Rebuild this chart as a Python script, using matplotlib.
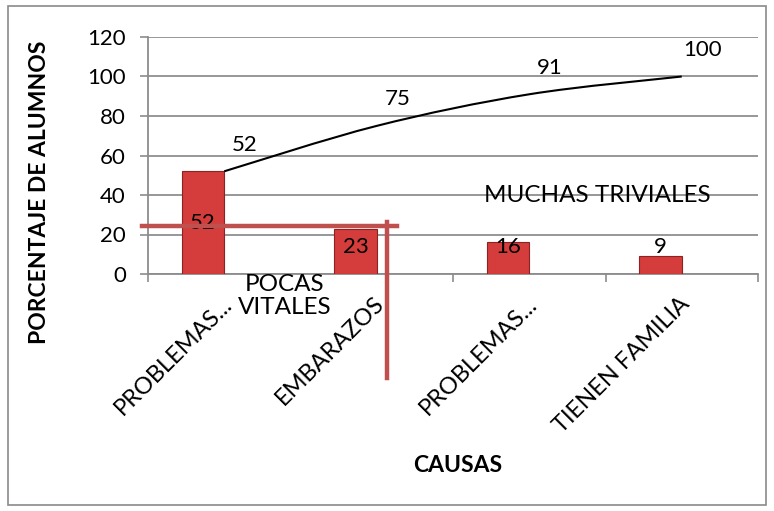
import numpy as np
import matplotlib.pyplot as plt
from matplotlib.path import Path
from matplotlib.patches import PathPatch, Rectangle
from matplotlib.lines import Line2D

plt.rcParams['font.family'] = ['Lato', 'DejaVu Sans']

causas = ['PROBLEMAS...', 'EMBARAZOS', 'PROBLEMAS...', 'TIENEN FAMILIA']
porcentaje = [52, 23, 16, 9]
acumulado = [52, 75, 91, 100]
yticks = [0, 20, 40, 60, 80, 100, 120]

W, H = 774, 511
fig = plt.figure(figsize=(W / 100, H / 100), dpi=100)
ax = fig.add_axes([148 / W, 1 - 274 / H, (758 - 148) / W, (274 - 37) / H])

x = np.arange(len(causas))
bw = 0.28
ax.bar(x - bw / 2, porcentaje, width=bw, color='#d43d3b', edgecolor='#8e2222',
       linewidth=0.8, zorder=3)

# bar value labels
for xi, v in zip(x, porcentaje):
    ax.text(xi - bw / 2, max(v / 2, 13.5), str(v), ha='center', va='center',
            fontsize=16, zorder=5)

# smoothed cumulative line (Catmull-Rom -> bezier)
pts = np.column_stack([x, acumulado]).astype(float)
verts = [pts[0]]
codes = [Path.MOVETO]
for i in range(len(pts) - 1):
    p0 = pts[max(i - 1, 0)]
    p1 = pts[i]
    p2 = pts[i + 1]
    p3 = pts[min(i + 2, len(pts) - 1)]
    verts += [p1 + (p2 - p0) / 6, p2 - (p3 - p1) / 6, p2]
    codes += [Path.CURVE4] * 3
ax.add_patch(PathPatch(Path(verts, codes), fill=False, edgecolor='black',
                       linewidth=1.5, zorder=4))
for xi, v in zip(x, acumulado):
    ax.annotate(str(v), (xi, v), xytext=(15, 19), textcoords='offset points',
                ha='center', va='center', fontsize=16)

ax.set_xlim(-0.5, len(causas) - 0.5)
ax.set_ylim(0, 120)
ax.set_yticks(yticks)
ax.set_xticks(np.arange(len(causas) + 1) - 0.5)
ax.set_xticklabels([])
# category labels, rotated
for xi, lab in zip(x, causas):
    ax.annotate(lab, (xi, 0), xycoords=('data', 'axes fraction'),
                xytext=(3, -19), textcoords='offset points', rotation=45,
                ha='right', va='center', rotation_mode='anchor', fontsize=17,
                annotation_clip=False)
ax.tick_params(axis='x', which='major', length=6, color='#8c8c8c', width=1.2)
ax.tick_params(axis='y', length=6, color='#8c8c8c', width=1.2, pad=10,
               labelsize=16)
ax.grid(axis='y', color='#8f8f8f', linewidth=1.3, zorder=0)
ax.set_axisbelow(True)
for s in ['top', 'right']:
    ax.spines[s].set_visible(False)
for s in ['left', 'bottom']:
    ax.spines[s].set_color('#8c8c8c')
    ax.spines[s].set_linewidth(1.3)

# annotation shapes
red = '#c0504d'
fig.add_artist(Line2D([142 / W, 397 / W], [1 - 226 / H, 1 - 226 / H],
                      color=red, linewidth=3.2, zorder=6))
fig.add_artist(Line2D([387 / W, 387 / W], [1 - 222 / H, 1 - 378 / H],
                      color=red, linewidth=3.2, zorder=6))
fig.text(285 / W, 1 - 296 / H, 'POCAS\nVITALES', ha='center', va='center',
         fontsize=17.5, linespacing=1.1)
fig.text(597 / W, 1 - 196 / H, 'MUCHAS TRIVIALES', ha='center', va='center',
         fontsize=17.5)

fig.text(40 / W, 1 - 192 / H, 'PORCENTAJE DE ALUMNOS', rotation=90,
         ha='center', va='center', fontsize=16.5, fontweight='bold')
fig.text(458 / W, 1 - 465 / H, 'CAUSAS', ha='center', va='center',
         fontsize=16.5, fontweight='bold')

fig.add_artist(Rectangle((8 / W, 1 - 505 / H), (766 - 8) / W, (505 - 6) / H,
                         transform=fig.transFigure, fill=False,
                         edgecolor='#8a8a8a', linewidth=1.2))

fig.savefig('out.png', dpi=100)
